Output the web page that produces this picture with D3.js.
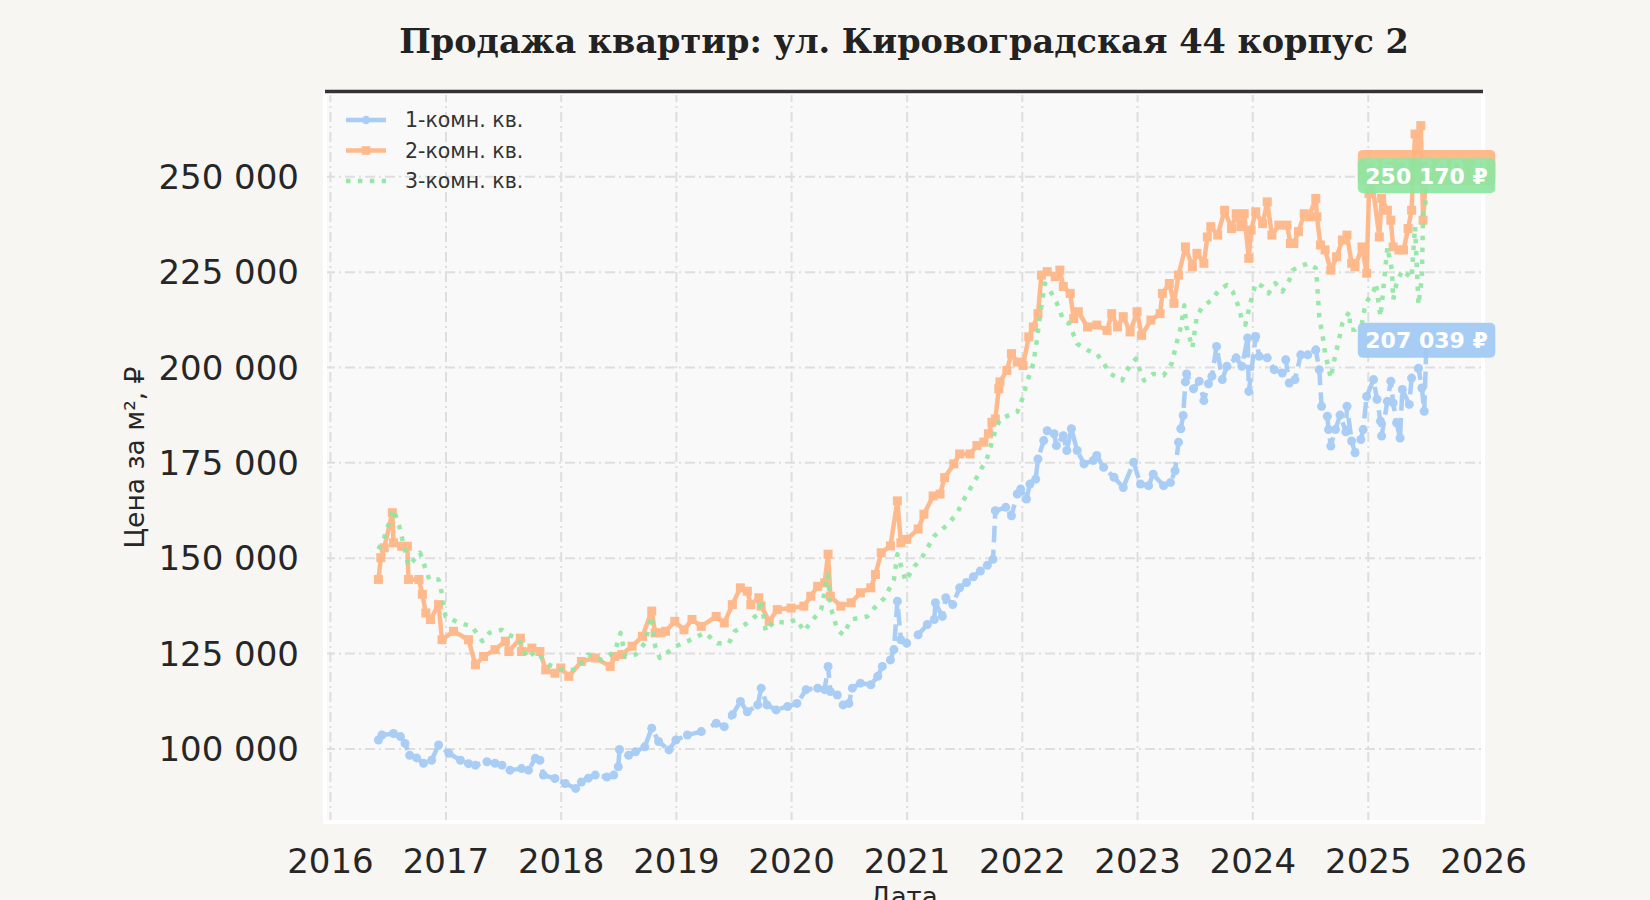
<!DOCTYPE html>
<html>
<head>
<meta charset="utf-8">
<script src="https://cdn.jsdelivr.net/npm/d3@7"></script>
<style>
  body { margin: 0; background: #f7f6f2; }
  svg { display: block; }
</style>
</head>
<body>
<div class="chart"></div>
<script>
// [decimal year, price per m²]
const room1 = [
  [2016.42,102200],[2016.45,103500],[2016.55,103900],[2016.61,103100],[2016.65,101300],[2016.69,98200],
  [2016.75,97500],[2016.81,96100],[2016.88,96900],[2016.94,100900],[2017.03,98700],[2017.13,96900],
  [2017.20,96000],[2017.26,95600],[2017.36,96500],[2017.43,96100],[2017.49,95600],[2017.56,94300],
  [2017.66,94700],[2017.72,94300],[2017.78,97400],[2017.82,96900],[2017.85,93000],[2017.95,92100],
  [2018.04,90800],[2018.13,89500],[2018.18,91200],[2018.24,92200],[2018.30,93000],[2018.40,92500],
  [2018.46,93000],[2018.50,95200],[2018.51,99700],[2018.59,98200],[2018.65,99100],[2018.73,100400],
  [2018.79,105300],[2018.85,101800],[2018.94,99600],[2019.00,102200],[2019.10,103500],[2019.22,104400],
  [2019.35,106600],[2019.42,105700],[2019.49,108800],[2019.56,112300],[2019.62,109600],[2019.71,111400],
  [2019.74,115800],[2019.79,111400],[2019.87,110100],[2019.97,111000],[2020.05,111800],[2020.13,115400],
  [2020.23,115800],[2020.29,115400],[2020.32,121500],[2020.34,114900],[2020.40,114000],[2020.45,111400],
  [2020.50,111800],[2020.53,115800],[2020.60,117100],[2020.69,116700],[2020.75,118900],[2020.79,121500],
  [2020.86,123200],[2020.89,125900],[2020.92,138600],[2020.95,128500],[2021.00,127600],[2021.10,129800],
  [2021.18,132500],[2021.24,133800],[2021.25,138200],[2021.31,134600],[2021.34,139500],[2021.40,137700],
  [2021.46,142100],[2021.52,143500],[2021.58,145000],[2021.64,146500],[2021.70,148000],[2021.75,149600],
  [2021.77,162300],[2021.86,163200],[2021.91,161000],[2021.96,166700],[2021.99,168000],[2022.04,165400],
  [2022.07,169300],[2022.12,170600],[2022.14,175900],[2022.19,180700],[2022.22,183300],[2022.28,182500],
  [2022.30,179400],[2022.36,182000],[2022.39,178100],[2022.43,183800],[2022.48,178100],[2022.54,174600],
  [2022.62,175500],[2022.65,176800],[2022.71,173700],[2022.80,171100],[2022.88,168400],[2022.97,175000],
  [2023.03,169300],[2023.10,168900],[2023.14,171900],[2023.23,168900],[2023.29,169700],[2023.33,172800],
  [2023.36,180300],[2023.38,183800],[2023.40,187300],[2023.42,196100],[2023.43,198200],[2023.49,194300],
  [2023.54,196300],[2023.58,191200],[2023.62,195600],[2023.65,197600],[2023.69,205400],[2023.74,196700],
  [2023.78,200200],[2023.86,202400],[2023.91,200200],[2023.96,207600],[2023.97,193600],[2024.03,208000],
  [2024.06,202800],[2024.13,202400],[2024.19,199300],[2024.26,198400],[2024.29,201900],[2024.32,195800],
  [2024.37,196700],[2024.42,203200],[2024.48,203200],[2024.55,204500],[2024.58,199300],[2024.60,189700],
  [2024.65,187100],[2024.66,183600],[2024.68,179300],[2024.72,183600],[2024.76,187400],[2024.81,183000],
  [2024.82,189700],[2024.86,180600],[2024.89,177500],[2024.94,181000],[2024.96,183600],[2024.99,192300],
  [2025.05,196700],[2025.08,191500],[2025.11,185800],[2025.12,181900],[2025.17,191000],[2025.20,196300],
  [2025.22,190600],[2025.25,185400],[2025.28,181400],[2025.30,194100],[2025.36,190200],[2025.38,197100],
  [2025.44,199700],[2025.47,194500],[2025.49,188400],[2025.51,207039]
];

const room2 = [
  [2016.42,144300],[2016.44,150000],[2016.47,152600],[2016.54,161800],[2016.55,153900],[2016.62,153000],
  [2016.67,153000],[2016.68,144300],[2016.77,144300],[2016.80,140400],[2016.83,135500],[2016.87,133800],
  [2016.94,137700],[2016.97,128500],[2017.07,130700],[2017.20,128500],[2017.26,121900],[2017.33,124100],
  [2017.43,125900],[2017.52,128100],[2017.55,125400],[2017.65,128900],[2017.66,125400],[2017.75,126300],
  [2017.82,125400],[2017.87,120600],[2017.95,119700],[2018.00,121100],[2018.07,118900],[2018.18,122800],
  [2018.30,123700],[2018.43,121500],[2018.47,124100],[2018.53,124600],[2018.62,126800],[2018.71,129400],
  [2018.79,136000],[2018.82,130300],[2018.87,130300],[2018.91,130700],[2018.99,133300],[2019.07,131100],
  [2019.14,133800],[2019.22,132000],[2019.35,134600],[2019.42,132900],[2019.49,137700],[2019.56,142100],
  [2019.62,141200],[2019.65,137700],[2019.72,139500],[2019.74,137300],[2019.81,133300],[2019.88,136400],
  [2020.00,136800],[2020.11,137300],[2020.17,139900],[2020.23,142500],[2020.29,143400],[2020.32,150900],
  [2020.34,139900],[2020.43,137300],[2020.52,138200],[2020.60,140800],[2020.69,142100],[2020.73,145600],
  [2020.78,151300],[2020.86,153100],[2020.92,164900],[2020.95,153900],[2021.00,154800],[2021.10,157500],
  [2021.15,161400],[2021.23,166200],[2021.29,166700],[2021.33,171000],[2021.41,174600],[2021.46,177200],
  [2021.55,177200],[2021.61,179400],[2021.67,180300],[2021.71,182500],[2021.74,185500],[2021.77,186400],
  [2021.80,194300],[2021.81,196100],[2021.87,199100],[2021.91,203500],[2021.96,201300],[2022.01,200400],
  [2022.06,207900],[2022.10,210500],[2022.14,214000],[2022.17,224100],[2022.22,225000],[2022.29,223700],
  [2022.33,225400],[2022.36,221100],[2022.42,219300],[2022.45,212700],[2022.49,214500],[2022.57,210500],
  [2022.65,211000],[2022.74,209600],[2022.78,214000],[2022.83,210500],[2022.88,213200],[2022.94,209200],
  [2023.00,214500],[2023.04,208300],[2023.12,212300],[2023.20,214000],[2023.22,219300],[2023.28,221900],
  [2023.32,216700],[2023.36,224100],[2023.42,231500],[2023.48,226300],[2023.52,229800],[2023.58,227200],
  [2023.61,234100],[2023.64,236800],[2023.70,234600],[2023.76,241100],[2023.82,236300],[2023.86,240200],
  [2023.90,236800],[2023.93,240200],[2023.97,228500],[2023.99,235900],[2024.03,240700],[2024.09,237600],
  [2024.13,243300],[2024.17,234600],[2024.23,237200],[2024.30,237200],[2024.33,232400],[2024.36,232400],
  [2024.40,235500],[2024.45,240200],[2024.49,239400],[2024.55,244200],[2024.56,239400],[2024.59,232000],
  [2024.63,230700],[2024.68,225400],[2024.73,228900],[2024.78,233300],[2024.82,234600],[2024.86,227200],
  [2024.89,226300],[2024.95,231500],[2024.99,224600],[2025.01,245500],[2025.03,250500],[2025.10,234100],
  [2025.12,244200],[2025.17,241100],[2025.20,238500],[2025.22,231500],[2025.27,230700],[2025.31,230700],
  [2025.35,236300],[2025.38,241100],[2025.41,261100],[2025.44,257000],[2025.46,263300],[2025.48,238500],
  [2025.51,252340]
];

const room3 = [
  [2016.42,152200],[2016.47,155300],[2016.55,162700],[2016.60,158300],[2016.62,155700],[2016.68,147800],
  [2016.78,151300],[2016.86,144300],[2016.94,144300],[2016.97,140400],[2017.00,134600],[2017.12,132900],
  [2017.23,132000],[2017.32,128100],[2017.38,130300],[2017.49,131100],[2017.55,129800],[2017.64,128500],
  [2017.71,123700],[2017.78,125400],[2017.90,121900],[2018.01,120600],[2018.13,120600],[2018.24,124600],
  [2018.36,123200],[2018.47,125400],[2018.52,130300],[2018.56,124100],[2018.65,124600],[2018.73,127600],
  [2018.79,134600],[2018.82,126800],[2018.86,123700],[2019.00,126800],[2019.16,128900],[2019.25,130300],
  [2019.36,127600],[2019.46,127600],[2019.51,130700],[2019.58,132000],[2019.71,135100],[2019.74,139000],
  [2019.78,130700],[2019.85,133300],[2019.97,132900],[2020.05,133800],[2020.11,130700],[2020.19,133800],
  [2020.26,136400],[2020.32,145600],[2020.34,137300],[2020.40,131100],[2020.45,129800],[2020.52,133800],
  [2020.66,134600],[2020.72,136800],[2020.81,139500],[2020.89,144300],[2020.92,150900],[2020.97,146000],
  [2020.99,143900],[2021.07,147800],[2021.14,150400],[2021.24,155700],[2021.36,158800],[2021.44,161800],
  [2021.49,164900],[2021.61,171100],[2021.70,176300],[2021.77,183300],[2021.81,186400],[2021.96,188200],
  [2022.01,192100],[2022.04,195600],[2022.10,200900],[2022.13,207000],[2022.16,214000],[2022.20,221900],
  [2022.25,219700],[2022.30,217100],[2022.36,212300],[2022.41,211400],[2022.48,206100],[2022.57,204400],
  [2022.65,203500],[2022.71,200900],[2022.77,198200],[2022.87,196500],[2022.91,199100],[2022.99,202200],
  [2023.03,198700],[2023.06,196500],[2023.14,198200],[2023.23,197800],[2023.30,200900],[2023.35,207000],
  [2023.38,210500],[2023.41,216200],[2023.43,210500],[2023.48,205000],[2023.52,213500],[2023.57,215900],
  [2023.65,217600],[2023.71,220200],[2023.78,221500],[2023.83,219800],[2023.88,215900],[2023.91,212400],
  [2023.94,211100],[2023.99,217600],[2024.03,222000],[2024.09,221100],[2024.14,219300],[2024.20,222000],
  [2024.26,219800],[2024.32,222800],[2024.35,225400],[2024.40,226300],[2024.49,227200],[2024.55,225900],
  [2024.56,222400],[2024.58,213200],[2024.61,208000],[2024.63,203700],[2024.68,197100],[2024.71,201900],
  [2024.75,207100],[2024.78,211500],[2024.84,214500],[2024.85,209800],[2024.89,209800],[2024.95,211500],
  [2024.98,216700],[2025.05,219800],[2025.07,222000],[2025.11,213200],[2025.14,222000],[2025.17,231500],
  [2025.21,225400],[2025.22,217600],[2025.25,222000],[2025.30,225400],[2025.38,223300],[2025.41,236800],
  [2025.44,216300],[2025.47,223700],[2025.48,241100],[2025.50,242900],[2025.51,250170]
];

const seriesNames = ["1-комн. кв.", "2-комн. кв.", "3-комн. кв."];
const yTicks = [100000, 125000, 150000, 175000, 200000, 225000, 250000];
const xTicks = [2016, 2017, 2018, 2019, 2020, 2021, 2022, 2023, 2024, 2025, 2026];
const titleText = "Продажа квартир: ул. Кировоградская 44 корпус 2";

const W = 1650, H = 900;
const plot = { left: 325, right: 1483, top: 93, bottom: 822 };

function toDate(v) {
  const yr = Math.floor(v);
  const a = new Date(yr, 0, 1), b = new Date(yr + 1, 0, 1);
  return new Date(+a + (v - yr) * (b - a));
}

const fmt = d3.formatLocale({ decimal: ",", thousands: " ", grouping: [3], currency: ["", ""] }).format(",d");

const x = d3.scaleTime()
  .domain([toDate(2015.957), toDate(2026)])
  .range([plot.left, plot.right]);
const y = d3.scaleLinear()
  .domain([80700, 271850])
  .range([plot.bottom, plot.top]);

const series = [
  { name: seriesNames[0], data: room1, color: "#a1c9f4", dash: "16.6,7.2", marker: "circle" },
  { name: seriesNames[1], data: room2, color: "#ffb482", dash: null, marker: "square" },
  { name: seriesNames[2], data: room3, color: "#8de5a1", dash: "4.5,7.4", marker: null }
];

const svg = d3.select(".chart").append("svg")
  .attr("width", W)
  .attr("height", H)
  .style("font-family", "'DejaVu Sans', sans-serif");

svg.append("rect").attr("width", W).attr("height", H).attr("fill", "#f7f6f2");

// axes background
svg.append("rect")
  .attr("x", plot.left).attr("y", plot.top)
  .attr("width", plot.right - plot.left).attr("height", plot.bottom - plot.top)
  .attr("fill", "#f9f9f9");

// grid
const grid = svg.append("g").attr("class", "grid");
grid.append("g")
  .attr("transform", `translate(0,${plot.bottom})`)
  .call(d3.axisBottom(x).tickValues(xTicks.map(toDate)).tickSize(-(plot.bottom - plot.top)).tickFormat(""));
grid.append("g")
  .attr("transform", `translate(${plot.left},0)`)
  .call(d3.axisLeft(y).tickValues(yTicks).tickSize(-(plot.right - plot.left)).tickFormat(""));
grid.selectAll(".domain").remove();
grid.selectAll("line")
  .attr("stroke", "#dedede")
  .attr("stroke-width", 2)
  .attr("stroke-dasharray", "10,4,2,4");

// white frame over the grid
svg.append("rect")
  .attr("x", plot.left).attr("y", plot.top)
  .attr("width", plot.right - plot.left).attr("height", plot.bottom - plot.top)
  .attr("fill", "none")
  .attr("stroke", "#ffffff").attr("stroke-width", 4);

// top spine
svg.append("line")
  .attr("x1", plot.left).attr("x2", plot.right)
  .attr("y1", plot.top - 1.5).attr("y2", plot.top - 1.5)
  .attr("stroke", "#333333").attr("stroke-width", 3.5);

// tick labels
const xAxis = svg.append("g")
  .attr("transform", `translate(0,${plot.bottom})`)
  .call(d3.axisBottom(x).tickValues(xTicks.map(toDate)).tickSize(0).tickPadding(0).tickFormat(d3.timeFormat("%Y")));
xAxis.select(".domain").remove();
xAxis.selectAll("text")
  .attr("y", 51).attr("dy", 0)
  .attr("fill", "#262626")
  .style("font-size", "34px")
  .style("font-family", "'DejaVu Sans', sans-serif");

const yAxis = svg.append("g")
  .attr("transform", `translate(${plot.left},0)`)
  .call(d3.axisLeft(y).tickValues(yTicks).tickSize(0).tickPadding(26).tickFormat(fmt));
yAxis.select(".domain").remove();
yAxis.selectAll("text")
  .attr("dy", "0.36em")
  .attr("fill", "#262626")
  .style("font-size", "34px")
  .style("font-family", "'DejaVu Sans', sans-serif");

// axis titles
svg.append("text")
  .attr("x", (plot.left + plot.right) / 2).attr("y", 906)
  .attr("text-anchor", "middle")
  .attr("fill", "#262626")
  .style("font-size", "26px")
  .text("Дата");

svg.append("text")
  .attr("transform", `translate(144,${(plot.top + plot.bottom) / 2}) rotate(-90)`)
  .attr("text-anchor", "middle")
  .attr("fill", "#262626")
  .style("font-size", "26.5px")
  .text("Цена за м², ₽");

// title
svg.append("text")
  .attr("x", (plot.left + plot.right) / 2).attr("y", 53)
  .attr("text-anchor", "middle")
  .attr("fill", "#222222")
  .style("font-family", "'DejaVu Serif', serif")
  .style("font-weight", "bold")
  .style("font-size", "33.5px")
  .text(titleText);

// lines
const line = d3.line()
  .x(d => x(toDate(d[0])))
  .y(d => y(d[1]));

series.forEach(s => {
  const g = svg.append("g").attr("opacity", 0.9);
  g.append("path")
    .datum(s.data)
    .attr("d", line)
    .attr("fill", "none")
    .attr("stroke", s.color)
    .attr("stroke-width", 4.5)
    .attr("stroke-linejoin", "round")
    .attr("stroke-dasharray", s.dash);
  if (s.marker === "circle") {
    g.selectAll("circle").data(s.data).enter().append("circle")
      .attr("cx", d => x(toDate(d[0])))
      .attr("cy", d => y(d[1]))
      .attr("r", 4.5)
      .attr("fill", s.color);
  } else if (s.marker === "square") {
    g.selectAll("rect").data(s.data).enter().append("rect")
      .attr("x", d => x(toDate(d[0])) - 4.5)
      .attr("y", d => y(d[1]) - 4.5)
      .attr("width", 9).attr("height", 9)
      .attr("fill", s.color);
  }
});

// legend
const legend = svg.append("g");
series.forEach((s, i) => {
  const ly = 120 + i * 30.5;
  const row = legend.append("g").attr("opacity", 0.9);
  row.append("line")
    .attr("x1", 346).attr("x2", 386)
    .attr("y1", ly).attr("y2", ly)
    .attr("stroke", s.color).attr("stroke-width", 4.5)
    .attr("stroke-dasharray", s.dash);
  if (s.marker === "circle") {
    row.append("circle").attr("cx", 366).attr("cy", ly).attr("r", 4.3).attr("fill", s.color);
  } else if (s.marker === "square") {
    row.append("rect").attr("x", 361.7).attr("y", ly - 4.3).attr("width", 8.6).attr("height", 8.6).attr("fill", s.color);
  }
  legend.append("text")
    .attr("x", 405).attr("y", ly + 7)
    .attr("fill", "#333333")
    .style("font-size", "20.5px")
    .text(s.name);
});

// last value labels
series.forEach(s => {
  const last = s.data[s.data.length - 1];
  const cx = x(toDate(last[0])), cy = y(last[1]);
  const g = svg.append("g");
  const box = g.append("rect").attr("fill", s.color).attr("opacity", 0.92).attr("rx", 5);
  const t = g.append("text")
    .attr("x", cx).attr("y", cy).attr("dy", "0.36em")
    .attr("text-anchor", "middle")
    .attr("fill", "#ffffff")
    .style("font-size", "22px")
    .style("font-weight", "bold")
    .text(fmt(last[1]) + " ₽");
  const bb = t.node().getBBox();
  box.attr("x", bb.x - 7.5).attr("y", cy - 17.5)
    .attr("width", bb.width + 15).attr("height", 35);
});
</script>
</body>
</html>
